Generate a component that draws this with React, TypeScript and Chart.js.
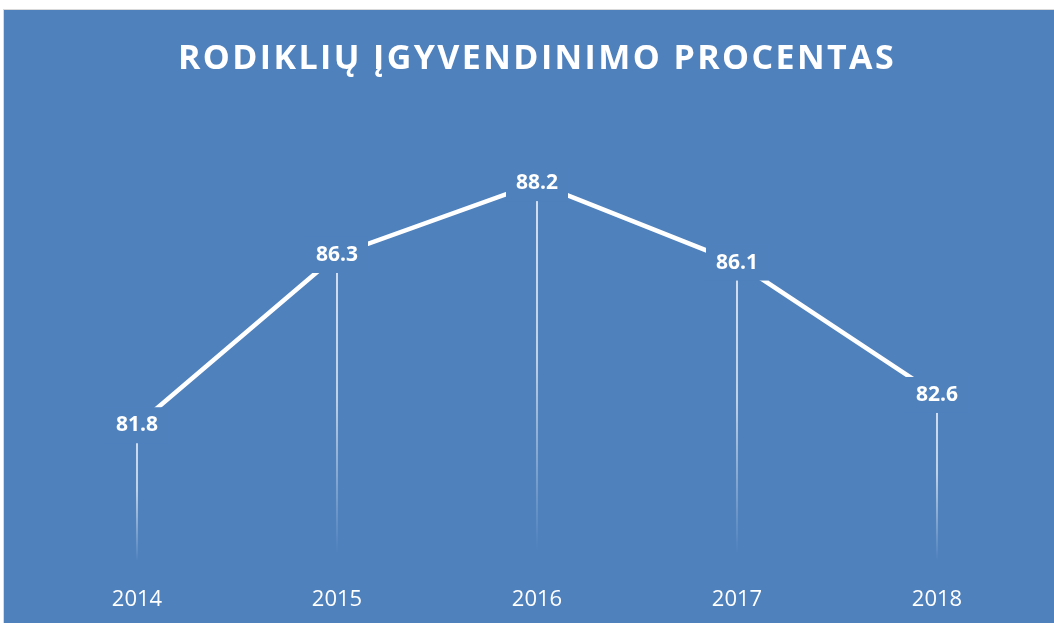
import React, { useEffect, useRef } from "react";
import { Chart, registerables } from "chart.js";

Chart.register(...registerables);

const categories = ["2014", "2015", "2016", "2017", "2018"];
const values = [81.8, 86.3, 88.2, 86.1, 82.6];
const titleText = "RODIKLIŲ ĮGYVENDINIMO PROCENTAS";

const BG = "#4F81BD";

const bgPlugin = {
  id: "bgFill",
  beforeDraw(chart: any) {
    const { ctx, width, height } = chart;
    ctx.save();
    ctx.fillStyle = BG;
    ctx.fillRect(0, 0, width, height);
    ctx.restore();
  },
};

const titlePlugin = {
  id: "spacedTitle",
  afterDraw(chart: any) {
    const { ctx } = chart;
    ctx.save();
    ctx.font = "bold 34px 'Open Sans'";
    (ctx as any).letterSpacing = "2.4px";
    ctx.fillStyle = "#FFFFFF";
    ctx.textAlign = "center";
    ctx.textBaseline = "alphabetic";
    ctx.fillText(titleText, 533, 59);
    ctx.restore();
  },
};

const dropLines = {
  id: "dropLines",
  beforeDatasetsDraw(chart: any) {
    const { ctx, chartArea } = chart;
    const meta = chart.getDatasetMeta(0);
    ctx.save();
    meta.data.forEach((pt: any) => {
      const g = ctx.createLinearGradient(0, pt.y, 0, chartArea.bottom);
      g.addColorStop(0, "rgba(255,255,255,1)");
      g.addColorStop(0.45, "rgba(255,255,255,0.85)");
      g.addColorStop(0.95, "rgba(255,255,255,0)");
      ctx.strokeStyle = g;
      ctx.lineWidth = 1.5;
      ctx.beginPath();
      ctx.moveTo(pt.x, pt.y);
      ctx.lineTo(pt.x, chartArea.bottom);
      ctx.stroke();
    });
    ctx.restore();
  },
};

const labelsPlugin = {
  id: "valueLabels",
  afterDatasetsDraw(chart: any) {
    const { ctx } = chart;
    const meta = chart.getDatasetMeta(0);
    ctx.save();
    ctx.font = "bold 21px 'Open Sans'";
    ctx.textAlign = "center";
    ctx.textBaseline = "middle";
    meta.data.forEach((pt: any, i: number) => {
      const txt = values[i].toFixed(1);
      const w = ctx.measureText(txt).width + 20;
      const h = 36;
      ctx.fillStyle = BG;
      ctx.fillRect(pt.x - w / 2, pt.y - h / 2, w, h);
      ctx.fillStyle = "#FFFFFF";
      ctx.fillText(txt, pt.x, pt.y);
    });
    ctx.restore();
  },
};

export default function App() {
  const ref = useRef<HTMLCanvasElement | null>(null);
  useEffect(() => {
    if (!ref.current) return;
    const chart = new Chart(ref.current, {
      type: "line",
      data: {
        labels: categories,
        datasets: [
          {
            data: values,
            borderColor: "#FFFFFF",
            borderWidth: 4.5,
            pointRadius: 0,
            tension: 0,
            fill: false,
          },
        ],
      },
      options: {
        animation: false,
        responsive: false,
        maintainAspectRatio: false,
        layout: { padding: { left: 33, right: 17, top: 105, bottom: 0 } },
        plugins: {
          legend: { display: false },
          tooltip: { enabled: false },
          title: { display: false },
        },
        scales: {
          x: {
            offset: true,
            grid: { display: false, drawTicks: false },
            border: { display: false },
            ticks: {
              color: "#FFFFFF",
              font: { family: "'Open Sans'", size: 22, lineHeight: 1.2 },
              padding: 18,
              maxRotation: 0,
            },
            afterFit(scale: any) {
              scale.height = 54;
            },
          },
          y: {
            display: false,
            min: 78,
            max: 90,
          },
        },
      },
      plugins: [bgPlugin, dropLines, labelsPlugin, titlePlugin],
    });
    return () => chart.destroy();
  }, []);
  return (
    <div style={{ position: "fixed", left: 0, top: 0, width: 1054, height: 623, background: "#FFFFFF", overflow: "hidden" }}>
      <div style={{ position: "absolute", left: 3, top: 9, width: 1051, height: 614, borderLeft: "1px solid #D9D9D9", borderTop: "1px solid #D9D9D9" }} />
      <canvas ref={ref} width={1050} height={613} style={{ position: "absolute", left: 4, top: 10, display: "block" }} />
    </div>
  );
}
